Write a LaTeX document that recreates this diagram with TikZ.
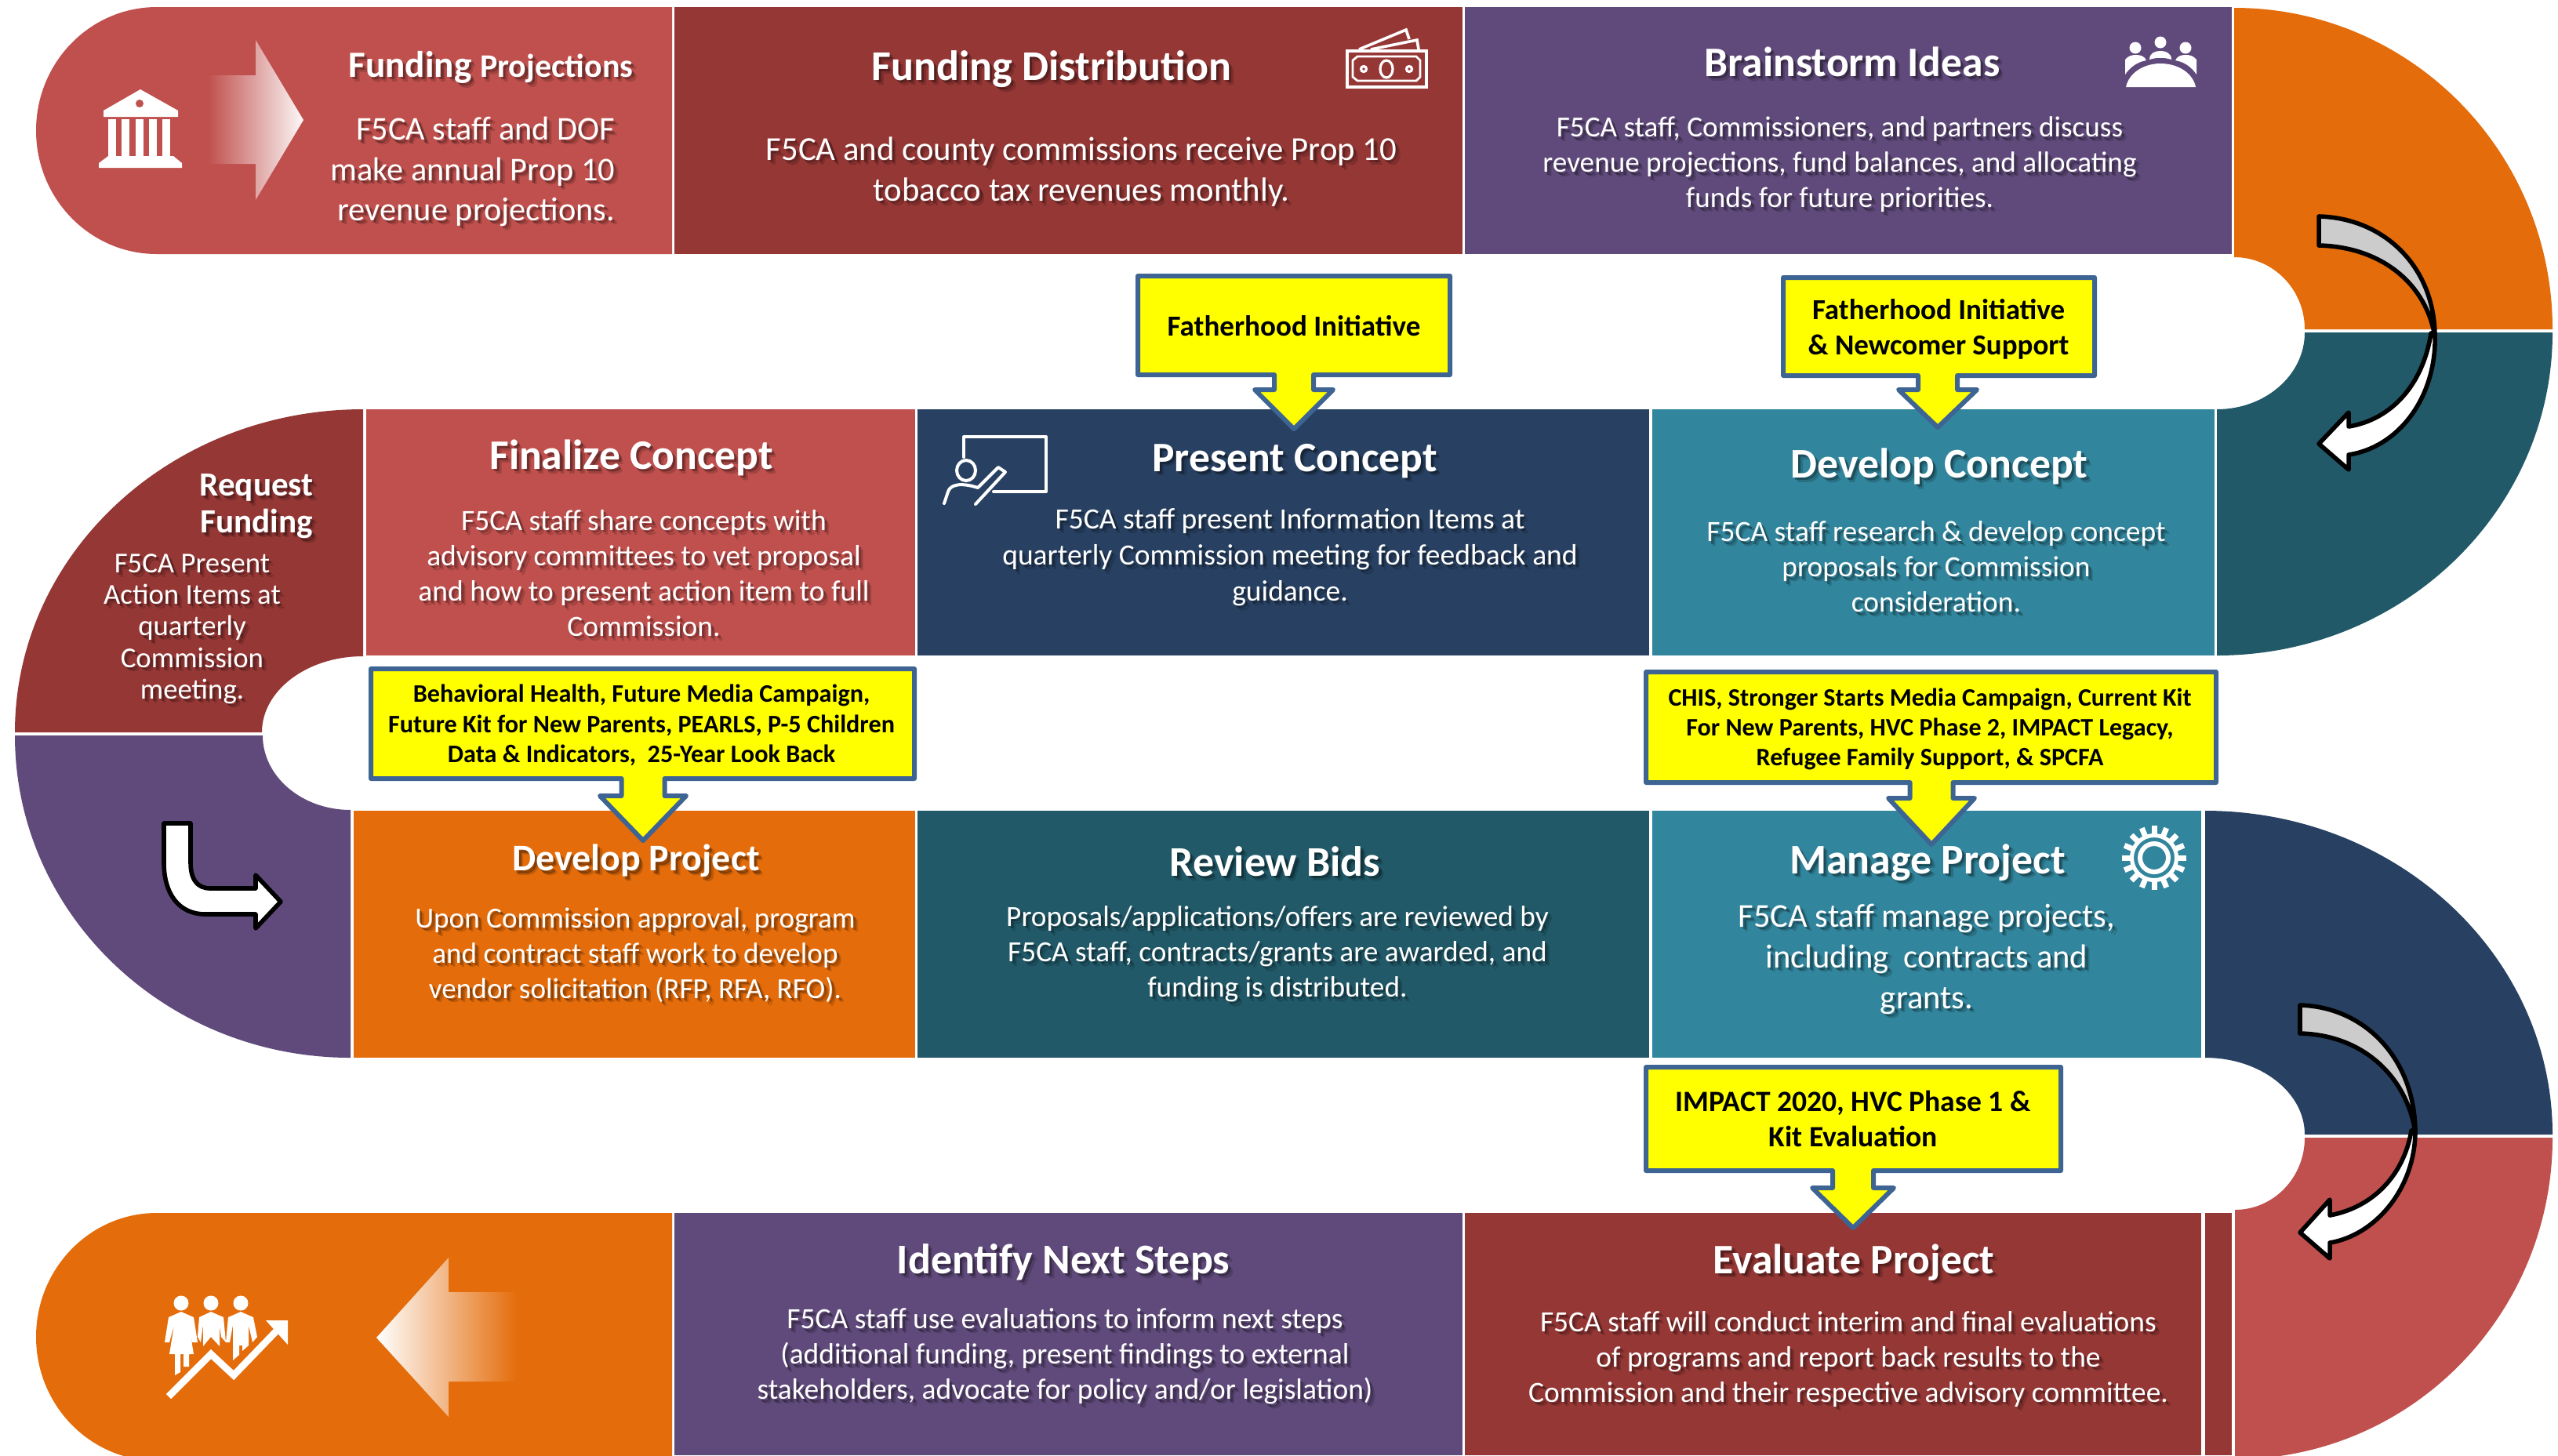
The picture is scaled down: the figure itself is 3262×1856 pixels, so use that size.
\documentclass[tikz,border=0pt]{standalone}
\usepackage{fontspec}
\setmainfont{Carlito}
\usetikzlibrary{shadings}
\definecolor{corRed}{HTML}{C0504D}
\definecolor{corWine}{HTML}{953735}
\definecolor{corPurple}{HTML}{604A7B}
\definecolor{corNavy}{HTML}{284162}
\definecolor{corPine}{HTML}{215968}
\definecolor{corTeal}{HTML}{31859C}
\definecolor{corOrange}{HTML}{E46C0A}
\definecolor{corEdge}{HTML}{3E6494}
\definecolor{corYellow}{HTML}{FFFF00}
\tikzset{
titulo/.style = {inner sep=0pt, align=center, text=white, font=\fontsize{#1}{#1}\selectfont\bfseries}
         }
\tikzset{
corpo/.style 2 args = {inner sep=0pt, align=center, text=white, font=\fontsize{#1}{#2}\selectfont}
         }
\tikzset{
aviso/.style 2 args = {inner sep=0pt, align=center, text=black, font=\fontsize{#1}{#2}\selectfont\bfseries}
         }
\tikzset{
balao/.style = {draw=corEdge, fill=corYellow, line width=1.5pt, line join=round}
         }
\tikzset{
seta/.style = {draw=black, line width=1.4pt, line join=round}
         }
% texto com sombra
\newcommand{\rotulo}[4]{
    \node[#3,text=black,text opacity=0.16,xshift=1.4pt,yshift=-1.4pt] at (#2) {#4};
    \node[#3,text=black,text opacity=0.30,xshift=0.8pt,yshift=-0.8pt] at (#2) {#4};
    \node[#3] (#1) at (#2) {#4};
}
% caixa amarela: x1,y1,x2,y2,xc,ybase,yponta,meia largura
\newcommand{\caixa}[8]{
    \draw[balao] (#1,#2) -- (#3,#2) -- (#3,#4) -- ({#5+#8/2},#4) -- ({#5+#8/2},#6) -- ({#5+#8},#6)
        -- (#5,#7) -- ({#5-#8},#6) -- ({#5-#8/2},#6) -- ({#5-#8/2},#4) -- (#1,#4) -- cycle;
}
\begin{document}
\begin{tikzpicture}[x=0.25pt,y=-0.25pt]
    \useasboundingbox (0,0) rectangle (3262,1856);
    \clip (0,0) rectangle (3262,1856);

    % LINHA 1
    \fill[corRed] (857,9) -- (200,9) arc[start angle=270,end angle=90,x radius=154,y radius=157.5] -- (857,324) -- cycle;
    \fill[corWine] (860,9) rectangle (1865,324);
    \fill[corPurple] (1868,9) rectangle (2846,324);
    \fill[corOrange] (2849,10) arc[start angle=-90,end angle=0,x radius=406,y radius=410] -- (2939,420)
        arc[start angle=0,end angle=-90,x radius=90,y radius=92] -- cycle;

    % LINHA 2
    \fill[corPine] (3255,424) arc[start angle=0,end angle=90,x radius=428,y radius=412] -- (2827,522)
        arc[start angle=90,end angle=0,x radius=112,y radius=98] -- cycle;
    \fill[corTeal] (2107,522) rectangle (2824,836);
    \fill[corNavy] (1170,522) rectangle (2103,836);
    \fill[corRed] (467,522) rectangle (1167,836);
    \fill[corWine] (19,934) arc[start angle=180,end angle=270,x radius=444,y radius=412] -- (463,837)
        arc[start angle=270,end angle=180,x radius=129,y radius=97] -- cycle;

    % LINHA 3
    \fill[corPurple] (19,938) arc[start angle=180,end angle=90,x radius=428,y radius=411] -- (447,1033)
        arc[start angle=90,end angle=180,x radius=112,y radius=95] -- cycle;
    \fill[corOrange] (451,1034) rectangle (1167,1349);
    \fill[corPine] (1170,1034) rectangle (2103,1349);
    \fill[corTeal] (2107,1034) rectangle (2807,1349);
    \fill[corNavy] (2812,1034) arc[start angle=-90,end angle=0,x radius=443,y radius=413] -- (2939,1447)
        arc[start angle=0,end angle=-90,x radius=127,y radius=98] -- cycle;

    % LINHA 4
    \fill[corRed] (3255,1451) arc[start angle=0,end angle=90,x radius=405,y radius=410] -- (2850,1543)
        arc[start angle=90,end angle=0,x radius=89,y radius=92] -- cycle;
    \fill[corWine] (2812,1547) rectangle (2846,1856);
    \fill[corWine] (1868,1547) rectangle (2807,1856);
    \fill[corPurple] (860,1547) rectangle (1865,1856);
    \fill[corOrange] (857,1547) -- (200,1547) arc[start angle=270,end angle=90,x radius=154,y radius=158] -- (857,1863) -- cycle;

    % SETAS CLARAS
    \shade[left color=corRed,right color=white!96!corRed] (265,96) -- (326,96) -- (326,51) -- (387,153)
        -- (326,255) -- (326,209) -- (265,209) -- cycle;
    \shade[left color=white,right color=corOrange] (660,1648) -- (572,1648) -- (572,1604) -- (480,1706)
        -- (572,1807) -- (572,1762) -- (660,1762) -- cycle;

    % SETAS PRETAS
    \draw[seta,fill=white] (2957,566) -- (2995,526) -- (2995,544) .. controls (3050,535) and (3090,490) .. (3100,425)
        -- (3105,425) .. controls (3108,505) and (3060,570) .. (2995,580) -- (2995,599) -- cycle;
    \draw[seta,fill=black!20] (2957,276) .. controls (3040,278) and (3105,340) .. (3105,430)
        .. controls (3095,365) and (3040,315) .. (2957,313) -- cycle;
    \draw[seta,fill=white] (2933,1572) -- (2971,1530) -- (2971,1550) .. controls (3025,1540) and (3065,1500) .. (3075,1442)
        -- (3080,1442) .. controls (3080,1515) and (3030,1575) .. (2971,1585) -- (2971,1605) -- cycle;
    \draw[seta,fill=black!20] (2933,1282) .. controls (3015,1284) and (3080,1350) .. (3080,1445)
        .. controls (3070,1375) and (3015,1320) .. (2933,1318) -- cycle;
    \draw[seta,fill=white] (209,1050) -- (243,1050) -- (243,1100) .. controls (243,1122) and (252,1133) .. (268,1133)
        -- (326,1133) -- (326,1116) -- (358,1150) -- (326,1184) -- (326,1166) -- (262,1166)
        .. controls (228,1166) and (209,1140) .. (209,1100) -- cycle;

    % CAIXAS AMARELAS
    \caixa{1451}{352}{1849}{478}{1650}{497}{547}{50}
    \caixa{2274}{354}{2671}{479}{2471}{497}{545}{50}
    \caixa{473}{853}{1166}{993}{820}{1015}{1072}{55}
    \caixa{2099}{857}{2826}{998}{2463}{1018}{1077}{55}
    \caixa{2099}{1361}{2628}{1493}{2363}{1515}{1566}{52}

    % ICONES
    % banco
    \fill[white] (179,114) -- (227,141) -- (227,149) -- (132,149) -- (132,141) -- cycle;
    \fill[corRed] (178,132) ellipse[x radius=5,y radius=5];
    \foreach \px in {143,160,178,195,212} {
        \fill[white] ({\px-5},152) rectangle ({\px+5},199);
    }
    \fill[white] (138,199) -- (221,199) -- (232,208) -- (232,214) -- (126,214) -- (126,208) -- cycle;
    % dinheiro
    \draw[white,line width=1pt] (1718,65) rectangle (1819,111);
    \draw[white,line width=0.7pt] (1731,72) -- (1806,72) -- (1811,77) -- (1811,98) -- (1806,103) -- (1731,103) -- (1725,98) -- (1725,77) -- cycle;
    \draw[white,line width=0.8pt] (1768,88) ellipse[x radius=8,y radius=11];
    \draw[white,line width=0.8pt] (1739,88) circle[radius=3.5] (1797,88) circle[radius=3.5];
    \draw[white,line width=0.9pt] (1733,63) -- (1793,38) -- (1797,50) (1748,63) -- (1807,51) -- (1809,63);
    % reuniao
    \fill[white] (2711,111) .. controls (2715,92) and (2735,81) .. (2755,81) .. controls (2776,81) and (2796,92) .. (2800,111) -- cycle;
    \fill[white] (2723,61) circle[radius=7.5] (2755,54) circle[radius=7.5] (2787,61) circle[radius=7.5];
    \fill[white] (2741,76) .. controls (2741,67) and (2749,65) .. (2755,65) .. controls (2761,65) and (2769,67) .. (2769,76)
        .. controls (2760,73) and (2750,73) .. (2741,76) -- cycle;
    \fill[white] (2710,95) -- (2710,76) .. controls (2714,71) and (2719,70) .. (2724,70) .. controls (2730,70) and (2735,72) .. (2737,77)
        .. controls (2725,79) and (2716,86) .. (2710,95) -- cycle;
    \fill[white] (2801,95) -- (2801,76) .. controls (2797,71) and (2792,70) .. (2787,70) .. controls (2781,70) and (2776,72) .. (2774,77)
        .. controls (2786,79) and (2795,86) .. (2801,95) -- cycle;
    % quadro
    \draw[white,line width=1pt,line join=round,line cap=round] (1229,583) -- (1229,557) -- (1334,557) -- (1334,627) -- (1267,627);
    \draw[white,line width=1pt] (1232,600) ellipse[x radius=12,y radius=13];
    \draw[white,line width=1pt,line join=round,line cap=round] (1204,642) -- (1209,627) .. controls (1212,618) and (1225,615) .. (1247,622)
        -- (1273,596) -- (1282,602) -- (1244,643);
    % engrenagem
    \begin{scope}[shift={(2747,1094)}]
        \foreach \ang in {0,22.5,...,337.5} {
            \fill[white,rotate=\ang] (-3.5,-41) rectangle (3.5,-28);
        }
        \fill[white,even odd rule] (0,0) circle[radius=31] (0,0) circle[radius=26];
        \fill[white,even odd rule] (0,0) circle[radius=21] (0,0) circle[radius=15];
    \end{scope}
    % pessoas
    \foreach \px in {231,269,307} {
        \fill[white] (\px,1662) ellipse[x radius=9.5,y radius=9.5];
    }
    \fill[white] (231,1673) -- (247,1680) -- (252,1712) -- (245,1712) -- (241,1690) -- (247,1727) -- (241,1727) -- (241,1743) -- (234,1743)
        -- (234,1727) -- (230,1727) -- (230,1750) -- (223,1754) -- (223,1727) -- (216,1727) -- (222,1690) -- (216,1712) -- (210,1712) -- (215,1680) -- cycle;
    \fill[white] (269,1673) -- (285,1680) -- (288,1712) -- (282,1705) -- (280,1690) -- (280,1717) -- (269,1705) -- (259,1717) -- (259,1690) -- (256,1712) -- (252,1705) -- (254,1680) -- cycle;
    \fill[white] (307,1673) -- (323,1680) -- (328,1705) -- (322,1712) -- (317,1690) -- (317,1716) -- (309,1723) -- (309,1716) -- (305,1716) -- (305,1728) -- (297,1735) -- (297,1690) -- (293,1712) -- (288,1712) -- (291,1680) -- cycle;
    \draw[white,line width=2.2pt] (215,1781) -- (269,1727) -- (298,1754) -- (352,1698);
    \fill[white] (339,1684) -- (367,1684) -- (367,1715) -- cycle;

    % TEXTOS
    \rotulo{tFP}{626,86}{titulo=11}{\fontsize{11.8}{12}\selectfont Funding {\fontsize{10.5}{12}\selectfont Projections}}
    \rotulo{bFP}{785,219}{corpo={10.6}{12.8},anchor=east,align=right}{F5CA staff and DOF\\ make annual Prop 10\\ revenue projections.}
    \rotulo{tFD}{1341,88}{titulo=13.5}{Funding Distribution}
    \rotulo{bFD}{1379,219}{corpo={10.7}{13}}{F5CA and county commissions receive Prop 10\\ tobacco tax revenues monthly.}
    \rotulo{tBI}{2362,79}{titulo=13.4}{Brainstorm Ideas}
    \rotulo{bBI}{2346,210}{corpo={9.3}{11.25}}{F5CA staff, Commissioners, and partners discuss\\ revenue projections, fund balances, and allocating\\ funds for future priorities.}

    \rotulo{tRF}{327,646}{titulo=10.8}{Request\\[1pt] Funding}
    \rotulo{bRF}{245,802}{corpo={9.2}{10.05}}{F5CA Present\\ Action Items at\\ quarterly\\ Commission\\ meeting.}
    \rotulo{tFC}{805,584}{titulo=13.4}{Finalize Concept}
    \rotulo{bFC}{821,731}{corpo={9.38}{11.25}}{F5CA staff share concepts with\\ advisory committees to vet proposal\\ and how to present action item to full\\ Commission.}
    \rotulo{tPC}{1651,588}{titulo=13.4}{Present Concept}
    \rotulo{bPC}{1645,711}{corpo={9.39}{11.5}}{F5CA staff present Information Items at\\ quarterly Commission meeting for feedback and\\ guidance.}
    \rotulo{tDC}{2473,595}{titulo=13.45}{Develop Concept}
    \rotulo{bDC}{2469,723}{corpo={9.37}{11.25}}{F5CA staff research \& develop concept\\ proposals for Commission\\ consideration.}

    \rotulo{tDP}{811,1098}{titulo=12}{Develop Project}
    \rotulo{bDP}{810,1218}{corpo={9.3}{11.25}}{Upon Commission approval, program\\ and contract staff work to develop\\ vendor solicitation (RFP, RFA, RFO).}
    \rotulo{tRB}{1626,1099}{titulo=13.5}{Review Bids}
    \rotulo{bRB}{1629,1217}{corpo={9.33}{11.25}}{Proposals/applications/offers are reviewed by\\ F5CA staff, contracts/grants are awarded, and\\ funding is distributed.}
    \rotulo{tMP}{2458,1100}{titulo=13.46}{Manage Project}
    \rotulo{bMP}{2457,1223}{corpo={10.65}{13}}{F5CA staff manage projects,\\ including\ \ contracts and\\ grants.}

    \rotulo{tIN}{1356,1610}{titulo=13.5}{Identify Next Steps}
    \rotulo{bIN}{1358,1730}{corpo={9.37}{11.25}}{F5CA staff use evaluations to inform next steps\\ (additional funding, present findings to external\\ stakeholders, advocate for policy and/or legislation)}
    \rotulo{tEP}{2364,1610}{titulo=13.4}{Evaluate Project}
    \rotulo{bEP}{2357,1733}{corpo={9.37}{11.25}}{F5CA staff will conduct interim and final evaluations\\ of programs and report back results to the\\ Commission and their respective advisory committee.}

    % TEXTOS DAS CAIXAS
    \node[aviso={9.27}{11.25}] (aFI) at (1650,416) {Fatherhood Initiative};
    \node[aviso={9.25}{11.25}] (aFN) at (2472,420) {Fatherhood Initiative\\ \& Newcomer Support};
    \node[aviso={8.05}{9.7}] (aBH) at (818,925) {Behavioral Health, Future Media Campaign,\\ Future Kit for New Parents, PEARLS, P-5 Children\\ Data \& Indicators,\ \ 25-Year Look Back};
    \node[aviso={8.02}{9.6}] (aCH) at (2461,930) {CHIS, Stronger Starts Media Campaign, Current Kit\\ For New Parents, HVC Phase 2, IMPACT Legacy,\\ Refugee Family Support, \& SPCFA};
    \node[aviso={9.4}{11.25}] (aIM) at (2363,1427) {IMPACT 2020, HVC Phase 1 \&\\ Kit Evaluation};
\end{tikzpicture}
\end{document}
